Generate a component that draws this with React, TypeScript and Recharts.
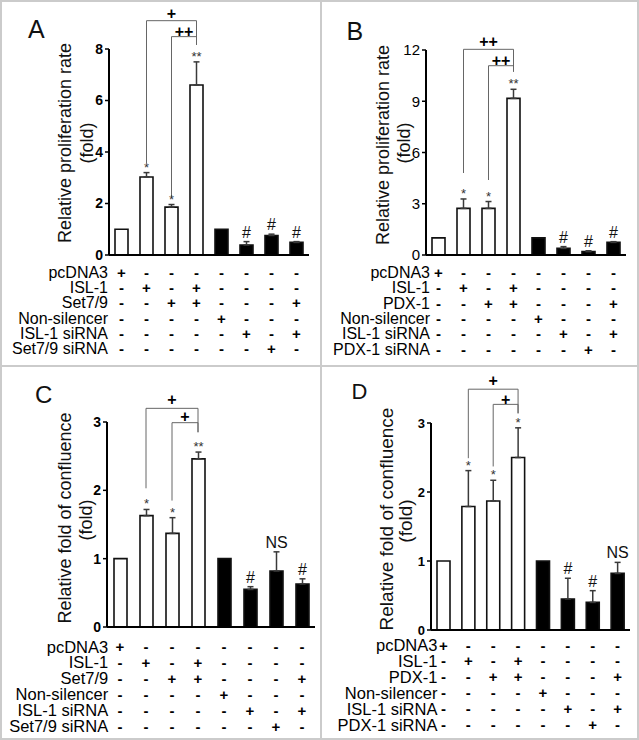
import React from 'react';
import {
  BarChart, Bar, XAxis, YAxis, Cell, ErrorBar, LabelList, ReferenceLine,
} from 'recharts';

const FONT = 'Arial, "Liberation Sans", Helvetica, sans-serif';

const groups = ['g1', 'g2', 'g3', 'g4', 'g5', 'g6', 'g7', 'g8'];
const barFills = ['#fff', '#fff', '#fff', '#fff', '#000', '#000', '#000', '#000'];
const edgeTicks = [1, 2, 3, 4, 5, 6, 7, 8];

// +/- table under each chart, one string per row, one char per group
const rowSigns = ['+-------', '-+-+----', '--++---+', '----+---', '-----+-+', '------+-'];
const set79Rows = ['pcDNA3', 'ISL-1', 'Set7/9', 'Non-silencer', 'ISL-1 siRNA', 'Set7/9 siRNA'];
const pdx1Rows = ['pcDNA3', 'ISL-1', 'PDX-1', 'Non-silencer', 'ISL-1 siRNA', 'PDX-1 siRNA'];

// A: proliferation, Set7/9
const aValues = [1, 3.03, 1.86, 6.6, 1, 0.39, 0.76, 0.49];
const aErrors = [0, 0.17, 0.1, 0.9, 0, 0.13, 0.05, 0.03];
const aMarks = ['', '*', '*', '**', '', '#', '#', '#'];
const aTicks = [0, 2, 4, 6, 8];
const aBrackets = [
  { from: 'g2', to: 'g4', top: 9.1, leftEnd: 3.57, rightEnd: 8.16, text: '+', textY: 9.39 },
  { from: 'g3', to: 'g4', top: 8.48, leftEnd: 2.25, rightEnd: 8.16, text: '++', textY: 8.7 },
];

// B: proliferation, PDX-1
const bValues = [1, 2.73, 2.73, 9.17, 1, 0.39, 0.2, 0.74];
const bErrors = [0, 0.55, 0.4, 0.53, 0, 0.1, 0.05, 0.04];
const bMarks = ['', '*', '*', '**', '', '#', '#', '#'];
const bTicks = [0, 3, 6, 9, 12];
const bBrackets = [
  { from: 'g2', to: 'g4', top: 12.04, leftEnd: 4.8, rightEnd: 10.73, text: '++', textY: 12.49 },
  { from: 'g3', to: 'g4', top: 11.08, leftEnd: 4.39, rightEnd: 10.73, text: '++', textY: 11.42 },
];

// C: confluence, Set7/9
const cValues = [1, 1.63, 1.37, 2.46, 1, 0.55, 0.82, 0.63];
const cErrors = [0, 0.09, 0.23, 0.1, 0, 0.04, 0.28, 0.075];
const cMarks = ['', '*', '*', '**', '', '#', 'NS', '#'];
const cTicks = [0, 1, 2, 3];
const cBrackets = [
  { from: 'g2', to: 'g4', top: 3.2, leftEnd: 2.03, rightEnd: 2.85, text: '+', textY: 3.33 },
  { from: 'g3', to: 'g4', top: 2.99, leftEnd: 1.85, rightEnd: 2.85, text: '+', textY: 3.08 },
];

// D: confluence, PDX-1
const dValues = [1, 1.79, 1.87, 2.5, 1, 0.45, 0.4, 0.82];
const dErrors = [0, 0.52, 0.3, 0.43, 0, 0.3, 0.17, 0.16];
const dMarks = ['', '*', '*', '*', '', '#', '#', 'NS'];
const dTicks = [0, 1, 2, 3];
const dBrackets = [
  { from: 'g2', to: 'g4', top: 3.49, leftEnd: 2.49, rightEnd: 3.14, text: '+', textY: 3.62 },
  { from: 'g3', to: 'g4', top: 3.27, leftEnd: 2.37, rightEnd: 3.14, text: '+', textY: 3.35 },
];

type Bracket = { from: string; to: string; top: number; leftEnd: number; rightEnd: number; text: string; textY: number };

interface PanelCfg {
  letter: string;
  letterPos: [number, number, number];
  yLabel: string;
  yLabelPos: [number, number, number, number, number];
  box: { x: number; y: number; w: number; h: number };
  plot: { left: number; right: number; top: number; bottom: number };
  values: number[];
  errors: number[];
  marks: string[];
  ticks: number[];
  tickBold: boolean;
  tickSize: number;
  brackets: Bracket[];
  rowLabels: string[];
  rowStart: number;
  rowStep: number;
  labelGap: number;
  labelSize: number;
}

const panels: PanelCfg[] = [
  {
    letter: 'A', letterPos: [28, 38, 25],
    yLabel: 'Relative proliferation rate', yLabelPos: [65, 143, 87, 143, 18],
    box: { x: 0, y: 0, w: 320, h: 366 },
    plot: { left: 109, right: 309, top: 49, bottom: 255 },
    values: aValues, errors: aErrors, marks: aMarks, ticks: aTicks, tickBold: true, tickSize: 14,
    brackets: aBrackets, rowLabels: set79Rows, rowStart: 17.5, rowStep: 15.2, labelGap: 13.5, labelSize: 16,
  },
  {
    letter: 'B', letterPos: [346.5, 40, 25],
    yLabel: 'Relative proliferation rate', yLabelPos: [382.5, 145, 404, 143, 18],
    box: { x: 322, y: 0, w: 317, h: 366 },
    plot: { left: 426, right: 626, top: 50, bottom: 255 },
    values: bValues, errors: bErrors, marks: bMarks, ticks: bTicks, tickBold: false, tickSize: 15,
    brackets: bBrackets, rowLabels: pdx1Rows, rowStart: 17.5, rowStep: 15.3, labelGap: 8.5, labelSize: 16,
  },
  {
    letter: 'C', letterPos: [35, 403, 24],
    yLabel: 'Relative fold of confluence', yLabelPos: [65, 518, 85.5, 520, 18],
    box: { x: 0, y: 367, w: 320, h: 373 },
    plot: { left: 107, right: 315, top: 422, bottom: 627 },
    values: cValues, errors: cErrors, marks: cMarks, ticks: cTicks, tickBold: true, tickSize: 14,
    brackets: cBrackets, rowLabels: set79Rows, rowStart: 19.5, rowStep: 15.9, labelGap: 11.8, labelSize: 16.5,
  },
  {
    letter: 'D', letterPos: [351.5, 398.5, 22],
    yLabel: 'Relative fold of confluence', yLabelPos: [386, 519, 405, 521, 19],
    box: { x: 322, y: 367, w: 317, h: 373 },
    plot: { left: 431, right: 630, top: 423, bottom: 630 },
    values: dValues, errors: dErrors, marks: dMarks, ticks: dTicks, tickBold: true, tickSize: 13,
    brackets: dBrackets, rowLabels: pdx1Rows, rowStart: 15, rowStep: 15.9, labelGap: 6, labelSize: 16.5,
  },
];

const SignTick = (props: any) => {
  const { x, y, payload, cfg } = props;
  const i = groups.indexOf(payload.value);
  const cx = Number(x);
  const cy = Number(y);
  return (
    <g>
      {rowSigns.map((r, k) => (
        <text key={k} x={cx} y={cy + cfg.rowStart + k * cfg.rowStep} textAnchor="middle"
          dominantBaseline="central" fontSize={15} fontWeight="bold" fill="#000">
          {r[i]}
        </text>
      ))}
      {i === 0 && cfg.rowLabels.map((lab: string, k: number) => (
        <text key={'l' + k} x={cx - cfg.labelGap} y={cy + cfg.rowStart + k * cfg.rowStep} textAnchor="end"
          dominantBaseline="central" fontSize={cfg.labelSize} fill="#000">
          {lab}
        </text>
      ))}
    </g>
  );
};

const markRenderer = (cfg: PanelCfg) => (props: any) => {
  const { x, y, width, height, index, value } = props;
  if (!value) return null;
  const pxPerUnit = Math.abs(Number(height)) / cfg.values[index];
  const capY = Number(y) - cfg.errors[index] * pxPerUnit;
  const star = String(value).startsWith('*');
  return (
    <text x={Number(x) + Number(width) / 2} y={capY - (star ? 1 : 4)} textAnchor="middle"
      fontSize={star ? 13 : 16} fill={star ? '#333' : '#111'}>
      {value}
    </text>
  );
};

function Panel({ cfg }: { cfg: PanelCfg }) {
  const data = groups.map((g, i) => ({
    group: g,
    value: cfg.values[i],
    err: cfg.errors[i] > 0 ? [0, cfg.errors[i]] : null,
    mark: cfg.marks[i],
  }));
  const { box, plot } = cfg;
  const margin = { top: plot.top - box.y, right: box.x + box.w - plot.right, bottom: 0, left: 0 };
  const yWidth = plot.left - box.x;
  const xHeight = box.y + box.h - plot.bottom;
  const top = cfg.ticks[cfg.ticks.length - 1];

  return (
    <div style={{ position: 'absolute', left: box.x, top: box.y, width: box.w, height: box.h }}>
      <BarChart width={box.w} height={box.h} data={data} margin={margin}>
        <XAxis xAxisId="edge" type="number" domain={[0, groups.length]} ticks={edgeTicks}
          height={0} axisLine={false} tick={() => <g />} tickLine={{ stroke: '#000', strokeWidth: 1.5 }}
          tickSize={4} allowDataOverflow interval={0} />
        <XAxis xAxisId="cat" dataKey="group" height={xHeight} interval={0}
          axisLine={{ stroke: '#000', strokeWidth: 2 }} tickLine={false} tickSize={0} tickMargin={0}
          tick={(p: any) => <SignTick {...p} cfg={cfg} />} />
        <YAxis domain={[0, top]} ticks={cfg.ticks} width={yWidth} interval={0} allowDataOverflow
          axisLine={{ stroke: '#000', strokeWidth: 2 }} tickLine={{ stroke: '#000', strokeWidth: 1.5 }}
          tickSize={4} tickMargin={2}
          tick={{ fill: '#000', fontSize: cfg.tickSize, fontWeight: cfg.tickBold ? 'bold' : 'normal' }} />
        <Bar xAxisId="cat" dataKey="value" barSize={13} isAnimationActive={false}
          stroke="#111" strokeWidth={1.6}>
          {data.map((d, i) => <Cell key={d.group} fill={barFills[i]} />)}
          <ErrorBar dataKey="err" direction="y" width={3} stroke="#3a3a3a" strokeWidth={1.5} />
          <LabelList dataKey="mark" content={markRenderer(cfg)} />
        </Bar>
        {cfg.brackets.map((b, k) => [
          <ReferenceLine key={`l${k}`} xAxisId="cat" ifOverflow="visible" stroke="#666" strokeWidth={1}
            segment={[{ x: b.from, y: b.leftEnd }, { x: b.from, y: b.top }]} />,
          <ReferenceLine key={`t${k}`} xAxisId="cat" ifOverflow="visible" stroke="#666" strokeWidth={1}
            segment={[{ x: b.from, y: b.top }, { x: b.to, y: b.top }]} />,
          <ReferenceLine key={`r${k}`} xAxisId="cat" ifOverflow="visible" stroke="#666" strokeWidth={1}
            segment={[{ x: b.to, y: b.top }, { x: b.to, y: b.rightEnd }]} />,
          <ReferenceLine key={`s${k}`} xAxisId="cat" ifOverflow="visible" stroke="none"
            segment={[{ x: b.from, y: b.textY }, { x: b.to, y: b.textY }]}
            label={{ value: b.text, position: 'center', fill: '#000', fontSize: 16, fontWeight: 'bold' }} />,
        ])}
      </BarChart>
    </div>
  );
}

const frameLines = [
  { left: 0, top: 0, width: 639, height: 2 },
  { left: 0, top: 738, width: 639, height: 2 },
  { left: 0, top: 0, width: 2, height: 740 },
  { left: 637, top: 0, width: 2, height: 740 },
  { left: 320, top: 0, width: 2, height: 740 },
  { left: 0, top: 365, width: 639, height: 2 },
];

export default function App() {
  return (
    <div style={{ position: 'absolute', left: 0, top: 0, width: 639, height: 740, background: '#fff', fontFamily: FONT, overflow: 'hidden' }}>
      {frameLines.map((f, i) => (
        <div key={i} style={{ position: 'absolute', background: '#cbcbcb', ...f }} />
      ))}
      {panels.map((p) => <Panel key={p.letter} cfg={p} />)}
      <svg width={639} height={740} style={{ position: 'absolute', left: 0, top: 0, pointerEvents: 'none' }}
        fontFamily={FONT}>
        {panels.map((p) => (
          <g key={p.letter}>
            <text x={p.letterPos[0]} y={p.letterPos[1]} fontSize={p.letterPos[2]} fill="#111">{p.letter}</text>
            <text x={p.yLabelPos[0]} y={p.yLabelPos[1]} fontSize={p.yLabelPos[4]} fill="#111" textAnchor="middle"
              dominantBaseline="central" transform={`rotate(-90 ${p.yLabelPos[0]} ${p.yLabelPos[1]})`}>
              {p.yLabel}
            </text>
            <text x={p.yLabelPos[2]} y={p.yLabelPos[3]} fontSize={p.yLabelPos[4]} fill="#111" textAnchor="middle"
              dominantBaseline="central" transform={`rotate(-90 ${p.yLabelPos[2]} ${p.yLabelPos[3]})`}>
              (fold)
            </text>
          </g>
        ))}
      </svg>
    </div>
  );
}
